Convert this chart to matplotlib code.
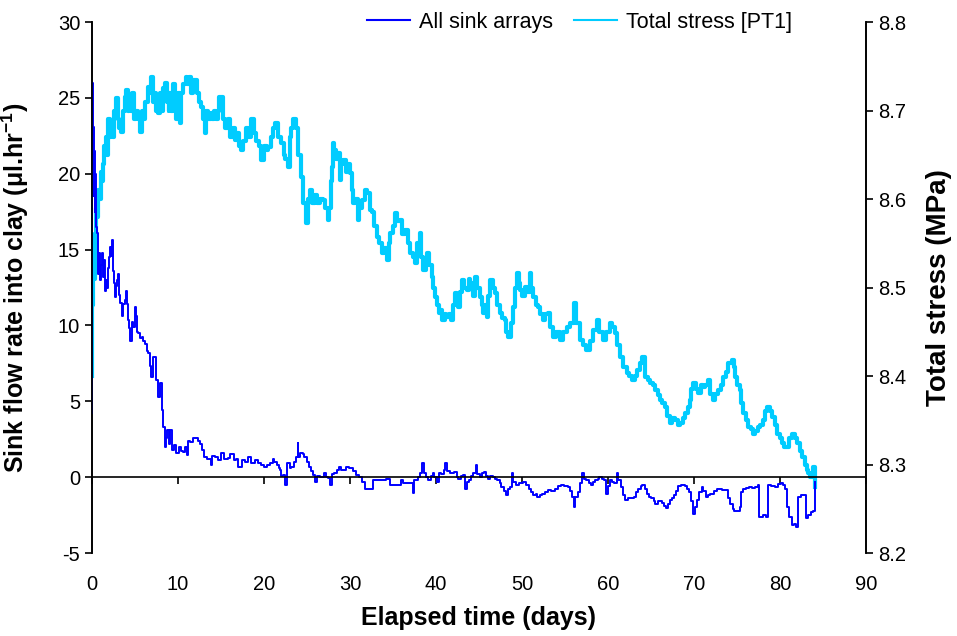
import matplotlib
matplotlib.use("Agg")
import matplotlib.pyplot as plt

plt.rcParams['font.family'] = ['Liberation Sans', 'DejaVu Sans']
plt.rcParams['mathtext.fontset'] = 'custom'
plt.rcParams['mathtext.rm'] = 'Liberation Sans'
plt.rcParams['mathtext.bf'] = 'Liberation Sans:bold'
plt.rcParams['axes.unicode_minus'] = False

# --- sink flow rate, all arrays (ul/hr) ---
sink_days = [0.0, 0.05, 0.1, 0.15, 0.2, 0.25, 0.3, 0.35, 0.45, 0.55, 0.65, 0.73, 0.85, 0.95, 1.05,
             1.13, 1.25, 1.35, 1.5, 1.6, 1.75, 1.9, 2.0, 2.1, 2.2, 2.3, 2.4, 2.5, 2.6, 2.7,
             2.8, 2.9, 3.06, 3.2, 3.3, 3.45, 3.6, 3.8, 4.0, 4.1, 4.2, 4.3, 4.4, 4.6, 4.8,
             5.0, 5.1, 5.25, 5.4, 5.6, 5.8, 5.95, 6.2, 6.35, 6.5, 6.7, 6.9, 7.1, 7.3, 7.5,
             7.7, 7.9, 8.1, 8.3, 8.5, 8.65, 8.75, 8.9, 9.07, 9.3, 9.5, 9.8, 10.1, 10.3, 10.6,
             10.8, 11.0, 11.2, 11.45, 11.7, 12.05, 12.3, 12.55, 12.8, 13.0, 13.4, 13.8, 14.0, 14.3, 14.6,
             15.0, 15.4, 15.8, 16.1, 16.5, 16.8, 17.0, 17.4, 17.8, 18.1, 18.5, 18.9, 19.3, 19.7, 20.0,
             20.4, 20.7, 21.0, 21.2, 21.5, 21.7, 21.9, 22.0, 22.2, 22.5, 22.7, 23.0, 23.2, 23.5, 23.7,
             23.9, 24.0, 24.2, 24.5, 24.7, 25.0, 25.2, 25.5, 25.7, 25.9, 26.2, 26.5, 26.95, 27.2, 27.4,
             27.7, 27.9, 28.2, 28.5, 28.7, 29.0, 29.2, 29.5, 29.9, 30.3, 30.7, 31.0, 31.4, 31.7, 32.0,
             32.4, 32.7, 33.2, 33.7, 34.2, 34.7, 35.0, 35.4, 35.9, 36.2, 36.7, 37.2, 37.3, 37.5, 37.9,
             38.2, 38.4, 38.6, 38.8, 39.1, 39.4, 39.6, 39.8, 40.1, 40.35, 40.6, 40.9, 41.1, 41.3, 41.6,
             41.9, 42.1, 42.4, 42.6, 42.9, 43.1, 43.4, 43.6, 43.8, 44.1, 44.35, 44.6, 44.8, 45.1, 45.4,
             45.6, 45.8, 46.0, 46.3, 46.6, 46.9, 47.1, 47.4, 47.6, 47.9, 48.1, 48.4, 48.6, 48.8, 49.0,
             49.3, 49.7, 50.1, 50.5, 50.8, 51.0, 51.3, 51.6, 51.8, 52.1, 52.3, 52.7, 53.0, 53.4, 53.8,
             54.2, 54.5, 54.9, 55.3, 55.6, 55.8, 56.0, 56.2, 56.5, 56.8, 57.0, 57.2, 57.5, 57.8, 58.0,
             58.3, 58.5, 58.8, 59.0, 59.3, 59.5, 59.8, 60.0, 60.2, 60.5, 60.7, 61.0, 61.2, 61.5, 61.8,
             62.0, 62.3, 62.5, 62.8, 63.0, 63.3, 63.5, 63.8, 64.0, 64.3, 64.5, 64.8, 65.0, 65.3, 65.5,
             65.8, 66.0, 66.3, 66.5, 66.7, 67.0, 67.2, 67.5, 67.7, 67.9, 68.1, 68.5, 68.95, 69.2, 69.4,
             69.6, 69.9, 70.1, 70.4, 70.6, 70.9, 71.1, 71.4, 71.6, 71.9, 72.3, 72.7, 73.0, 73.2, 73.6,
             73.9, 74.0, 74.2, 74.5, 74.7, 75.1, 75.3, 75.5, 75.65, 76.0, 76.4, 76.8, 77.15, 77.4, 77.55,
             78.0, 78.4, 78.6, 79.0, 79.4, 79.8, 80.1, 80.4, 80.6, 80.85, 81.1, 81.4, 81.6, 81.85, 82.1,
             82.5, 82.85, 83.0, 83.3, 83.6, 83.8, 84.1]
sink_flow = [4.2, 26.0, 20.0, 23.1, 18.5, 21.5, 17.5, 20.0, 16.5, 16.1, 14.5, 13.4, 14.8, 13.0, 14.0,
             14.8, 13.2, 14.3, 12.3, 13.0, 12.5, 13.8, 14.5, 15.2, 14.6, 15.6, 14.0, 13.6, 12.8, 11.9,
             12.6, 13.0, 13.4, 12.0, 11.5, 10.6, 11.4, 11.7, 12.3, 11.4, 10.35, 9.8, 9.0, 10.2, 9.9,
             11.2, 10.6, 9.6, 9.5, 9.2, 9.25, 9.0, 8.8, 8.3, 8.2, 7.3, 6.6, 7.9, 7.9, 6.4,
             5.3, 6.2, 4.4, 3.3, 2.0, 2.6, 3.1, 2.2, 3.1, 1.8, 2.1, 1.6, 2.0, 1.7, 1.65,
             2.0, 1.45, 2.4, 2.3, 2.6, 2.55, 2.4, 2.2, 1.8, 1.35, 1.2, 0.8, 1.4, 1.35, 1.1,
             1.6, 1.2, 1.25, 1.5, 1.1, 1.2, 0.7, 1.1, 1.0, 1.3, 0.9, 1.1, 0.9, 0.8, 0.65,
             0.8, 0.9, 1.2, 1.0, 0.8, 0.6, 0.5, 0.1, 0.15, -0.5, 0.9, 0.6, 0.7, 1.0, 1.35,
             2.25, 1.3, 1.6, 1.5, 1.35, 1.0, 0.7, 0.4, 0.15, -0.3, 0.1, 0.0, 0.25, 0.0, -0.05,
             -0.5, 0.2, 0.25, 0.5, 0.7, 0.5, 0.45, 0.7, 0.6, 0.4, 0.15, 0.0, -0.3, -0.75, -0.8,
             -0.8, -0.2, -0.2, -0.2, -0.1, -0.5, -0.5, -0.5, -0.2, -0.4, -0.4, -0.4, -1.05, -0.2, 0.0,
             0.3, 0.95, 0.25, 0.0, -0.2, 0.1, 0.25, 0.0, -0.3, 0.25, 0.2, 0.45, 0.95, 0.4, 0.25,
             0.3, 0.35, 0.0, -0.1, 0.1, 0.15, -0.75, -0.3, -0.2, 0.1, 0.25, 0.8, 0.2, 0.0, 0.3,
             0.35, 0.1, -0.1, 0.1, 0.0, -0.1, -0.2, -0.4, -0.65, -0.9, -1.2, -0.8, -0.65, 0.25, -0.3,
             -0.5, -0.4, -0.3, -0.5, -0.75, -1.0, -1.2, -1.1, -1.3, -1.2, -1.1, -1.0, -0.85, -0.9, -0.75,
             -0.6, -0.5, -0.6, -0.65, -0.9, -1.3, -1.95, -1.3, -1.0, -0.4, 0.25, -0.1, -0.2, -0.4, -0.5,
             -0.3, -0.2, -0.1, 0.0, -0.1, -0.2, -1.1, -0.6, -0.2, -0.3, -0.4, 0.25, -0.2, -0.65, -1.2,
             -1.5, -1.4, -1.4, -1.35, -1.3, -1.0, -0.75, -0.6, -0.5, -0.8, -1.1, -1.3, -1.4, -1.6, -1.75,
             -1.6, -1.6, -1.7, -1.9, -2.05, -1.8, -1.5, -1.4, -1.2, -0.9, -0.6, -0.55, -0.6, -0.8, -1.0,
             -1.6, -2.4, -2.0, -1.5, -1.0, -0.65, -0.9, -1.3, -1.2, -1.1, -0.9, -0.75, -0.8, -0.85, -0.85,
             -0.85, -1.4, -1.75, -2.1, -2.2, -2.2, -2.0, -1.0, -0.75, -0.7, -0.65, -0.7, -0.65, -0.5, -2.6,
             -2.5, -2.6, -0.5, -0.6, -0.65, -0.45, -0.4, -0.5, -0.75, -1.95, -2.6, -3.15, -3.1, -3.3, -1.3,
             -1.2, -1.2, -2.7, -2.5, -2.3, -2.2, -0.3]

# --- total stress PT1 (MPa) ---
stress_days = [0.0, 0.05, 0.1, 0.2, 0.3, 0.4, 0.5, 0.6, 0.7, 0.85, 1.0, 1.15, 1.3, 1.45, 1.6,
               1.75, 1.9, 2.05, 2.2, 2.4, 2.6, 2.8, 3.0, 3.2, 3.4, 3.6, 3.8, 4.0, 4.2, 4.35,
               4.5, 4.7, 4.9, 5.1, 5.3, 5.6, 5.8, 6.0, 6.2, 6.5, 6.7, 6.9, 7.1, 7.3, 7.5,
               7.7, 7.9, 8.1, 8.3, 8.5, 8.7, 8.9, 9.0, 9.2, 9.4, 9.6, 9.8, 10.0, 10.2, 10.4,
               10.6, 10.9, 11.1, 11.3, 11.5, 11.7, 12.0, 12.2, 12.5, 12.7, 12.9, 13.1, 13.3, 13.5, 13.8,
               14.0, 14.2, 14.4, 14.6, 14.8, 15.0, 15.2, 15.5, 15.8, 16.1, 16.4, 16.6, 16.9, 17.1, 17.3,
               17.6, 17.9, 18.2, 18.5, 18.8, 19.1, 19.4, 19.7, 20.0, 20.3, 20.5, 20.8, 21.0, 21.3, 21.6,
               22.0, 22.3, 22.5, 22.8, 23.0, 23.2, 23.4, 23.7, 24.0, 24.3, 24.5, 24.8, 24.9, 25.1, 25.3,
               25.6, 25.9, 26.2, 26.5, 26.9, 27.1, 27.4, 27.6, 27.8, 27.9, 28.0, 28.2, 28.4, 28.6, 28.8,
               29.0, 29.2, 29.5, 29.8, 30.0, 30.2, 30.3, 30.6, 30.9, 31.1, 31.4, 31.7, 32.0, 32.3, 32.6,
               32.8, 33.1, 33.4, 33.7, 34.0, 34.3, 34.5, 34.7, 35.0, 35.2, 35.5, 35.8, 36.1, 36.4, 36.7,
               37.0, 37.3, 37.6, 37.8, 38.1, 38.3, 38.5, 38.8, 39.0, 39.2, 39.5, 39.7, 39.9, 40.1, 40.3,
               40.5, 40.7, 41.0, 41.2, 41.5, 41.8, 42.0, 42.2, 42.4, 42.6, 42.8, 43.0, 43.3, 43.6, 43.8,
               44.0, 44.3, 44.5, 44.8, 45.1, 45.3, 45.5, 45.7, 45.9, 46.1, 46.3, 46.6, 46.9, 47.1, 47.4,
               47.7, 48.0, 48.2, 48.4, 48.7, 49.0, 49.2, 49.4, 49.6, 49.8, 50.0, 50.3, 50.6, 50.9, 51.1,
               51.3, 51.6, 51.9, 52.1, 52.4, 52.7, 53.0, 53.3, 53.6, 54.0, 54.4, 54.8, 55.2, 55.6, 56.0,
               56.3, 56.7, 57.1, 57.5, 57.9, 58.3, 58.7, 59.0, 59.4, 59.8, 60.2, 60.5, 60.8, 61.1, 61.4,
               61.8, 62.2, 62.5, 62.8, 63.1, 63.4, 63.7, 64.0, 64.3, 64.6, 64.9, 65.2, 65.5, 65.8, 66.0,
               66.3, 66.6, 66.9, 67.2, 67.5, 67.8, 68.1, 68.4, 68.7, 69.0, 69.3, 69.5, 69.7, 69.9, 70.2,
               70.5, 70.8, 71.0, 71.3, 71.6, 71.9, 72.2, 72.5, 72.8, 73.1, 73.4, 73.7, 74.0, 74.4, 74.6,
               74.8, 75.0, 75.3, 75.5, 75.7, 76.0, 76.3, 76.6, 76.9, 77.1, 77.4, 77.7, 78.0, 78.3, 78.5,
               78.8, 79.1, 79.4, 79.7, 80.0, 80.2, 80.5, 80.8, 81.1, 81.4, 81.7, 82.0, 82.3, 82.6, 82.9,
               83.1, 83.3, 83.5, 83.8, 84.1]
stress_mpa = [8.40, 8.48, 8.53, 8.51, 8.56, 8.55, 8.59, 8.58, 8.61, 8.60, 8.63, 8.62, 8.64, 8.66, 8.67,
              8.65, 8.69, 8.67, 8.686, 8.67, 8.70, 8.714, 8.69, 8.68, 8.676, 8.70, 8.715, 8.723, 8.70, 8.71,
              8.70, 8.72, 8.69, 8.70, 8.69, 8.676, 8.70, 8.69, 8.71, 8.727, 8.72, 8.738, 8.71, 8.72, 8.70,
              8.697, 8.72, 8.70, 8.725, 8.731, 8.71, 8.70, 8.72, 8.70, 8.73, 8.71, 8.69, 8.72, 8.686, 8.72,
              8.73, 8.738, 8.73, 8.738, 8.72, 8.735, 8.734, 8.72, 8.71, 8.704, 8.69, 8.675, 8.70, 8.69, 8.697,
              8.69, 8.70, 8.69, 8.70, 8.715, 8.715, 8.69, 8.68, 8.69, 8.67, 8.68, 8.667, 8.675, 8.66, 8.655,
              8.665, 8.68, 8.67, 8.69, 8.675, 8.665, 8.66, 8.644, 8.66, 8.655, 8.659, 8.67, 8.68, 8.686, 8.67,
              8.663, 8.65, 8.645, 8.636, 8.67, 8.68, 8.69, 8.68, 8.65, 8.625, 8.595, 8.595, 8.573, 8.60, 8.61,
              8.595, 8.605, 8.595, 8.60, 8.599, 8.59, 8.576, 8.59, 8.62, 8.636, 8.663, 8.655, 8.645, 8.652, 8.621,
              8.64, 8.644, 8.63, 8.64, 8.629, 8.61, 8.595, 8.60, 8.576, 8.59, 8.599, 8.61, 8.607, 8.588, 8.585,
              8.57, 8.557, 8.55, 8.539, 8.545, 8.531, 8.55, 8.562, 8.57, 8.584, 8.575, 8.576, 8.56, 8.565, 8.55,
              8.539, 8.535, 8.528, 8.55, 8.562, 8.535, 8.52, 8.53, 8.539, 8.525, 8.512, 8.50, 8.489, 8.48, 8.471,
              8.475, 8.463, 8.47, 8.467, 8.47, 8.463, 8.48, 8.494, 8.485, 8.478, 8.495, 8.508, 8.50, 8.497, 8.51,
              8.505, 8.49, 8.512, 8.50, 8.489, 8.48, 8.471, 8.48, 8.467, 8.49, 8.508, 8.50, 8.494, 8.48, 8.471,
              8.465, 8.463, 8.45, 8.444, 8.46, 8.478, 8.50, 8.516, 8.505, 8.497, 8.49, 8.501, 8.495, 8.516, 8.50,
              8.489, 8.48, 8.478, 8.47, 8.463, 8.47, 8.471, 8.455, 8.444, 8.45, 8.441, 8.45, 8.455, 8.46, 8.482,
              8.46, 8.441, 8.435, 8.429, 8.44, 8.452, 8.463, 8.45, 8.441, 8.45, 8.46, 8.455, 8.449, 8.435, 8.421,
              8.41, 8.403, 8.40, 8.395, 8.40, 8.407, 8.415, 8.421, 8.399, 8.395, 8.392, 8.39, 8.384, 8.378, 8.373,
              8.37, 8.365, 8.355, 8.347, 8.352, 8.35, 8.345, 8.347, 8.352, 8.358, 8.365, 8.373, 8.385, 8.392, 8.385,
              8.381, 8.39, 8.388, 8.39, 8.395, 8.38, 8.373, 8.38, 8.384, 8.39, 8.399, 8.405, 8.415, 8.418, 8.41,
              8.399, 8.39, 8.384, 8.37, 8.358, 8.35, 8.342, 8.34, 8.335, 8.338, 8.342, 8.345, 8.35, 8.36, 8.365,
              8.36, 8.354, 8.345, 8.335, 8.33, 8.324, 8.32, 8.32, 8.33, 8.335, 8.33, 8.324, 8.315, 8.308, 8.30,
              8.294, 8.29, 8.286, 8.297, 8.275]

x_ticks = [0, 10, 20, 30, 40, 50, 60, 70, 80, 90]
left_ticks = [-5, 0, 5, 10, 15, 20, 25, 30]
right_ticks = [8.2, 8.3, 8.4, 8.5, 8.6, 8.7, 8.8]

fig = plt.figure(figsize=(9.57, 6.36), dpi=100)
ax = fig.add_axes([0.0961, 0.1305, 0.8088, 0.8349])
ax2 = ax.twinx()

line_sink, = ax.plot(sink_days, sink_flow, color='#0000FF', lw=1.4, drawstyle='steps-post',
                     label='All sink arrays')
line_stress, = ax2.plot(stress_days, stress_mpa, color='#00CCFF', lw=3.0, drawstyle='steps-post',
                        label='Total stress [PT1]')

ax.set_zorder(ax2.get_zorder() + 1)
ax.patch.set_visible(False)

ax.set_xlim(0, 90)
ax.set_ylim(-5, 30)
ax2.set_ylim(8.2, 8.8)
ax.set_xticks(x_ticks)
ax.set_yticks(left_ticks)
ax2.set_yticks(right_ticks)
ax2.set_yticklabels(['%.1f' % v for v in right_ticks])

# x axis drawn along zero, labels at the bottom
ax.spines['bottom'].set_position(('data', 0))
ax.spines['top'].set_visible(False)
ax2.spines['top'].set_visible(False)
ax2.spines['bottom'].set_visible(False)
for s in ['bottom', 'left', 'right']:
    ax.spines[s].set_linewidth(1.2)
    ax2.spines[s].set_linewidth(1.2)
ax.tick_params(axis='x', direction='out', length=5, width=1.2, labelbottom=False)
ax.tick_params(axis='y', direction='out', length=5, width=1.2, labelsize=14.5)
ax2.tick_params(axis='y', direction='out', length=5, width=1.2, labelsize=14.5)

sec = ax.secondary_xaxis(0.0)
sec.set_xticks(x_ticks)
sec.spines['bottom'].set_visible(False)
sec.tick_params(length=0, pad=16, labelsize=14.5)

ax.set_xlabel('Elapsed time (days)', fontsize=18, fontweight='bold')
ax.xaxis.set_label_coords(0.5, -0.1)
ax.set_ylabel(r'Sink flow rate into clay ($\mathbf{\mu}$l.hr$^{\mathbf{-1}}$)',
              fontsize=18, fontweight='bold')
ax.yaxis.set_label_coords(-0.079, 0.5)
ax2.set_ylabel('Total stress (MPa)', fontsize=20, fontweight='bold')
ax2.yaxis.set_label_coords(1.078, 0.5)

leg = ax.legend(handles=[line_sink, line_stress], loc='center', bbox_to_anchor=(0.63, 1.0),
                ncol=2, frameon=False, fontsize=15.5, handlelength=2.0, columnspacing=1.0,
                handletextpad=0.4)
for h in leg.get_lines():
    h.set_linewidth(1.5)

fig.savefig('out.png', dpi=100)
